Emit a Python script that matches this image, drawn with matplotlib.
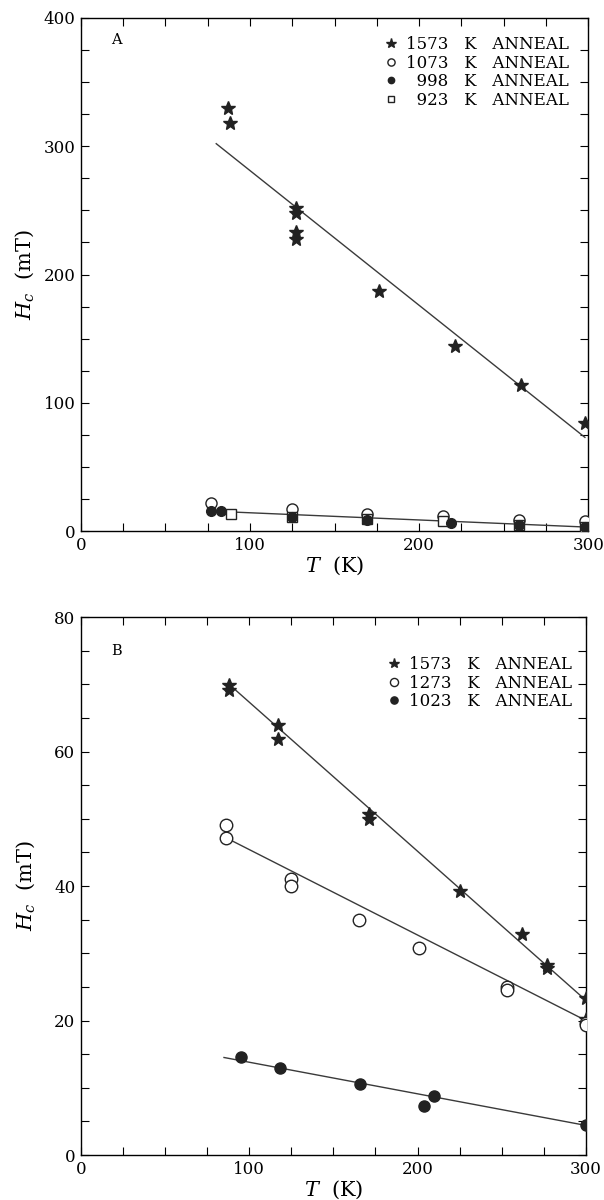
import matplotlib
matplotlib.use("Agg")
import matplotlib.pyplot as plt
from matplotlib.ticker import MultipleLocator

plt.rcParams['font.family'] = ['DejaVu Serif']
plt.rcParams['mathtext.fontset'] = 'dejavuserif'

# ---------------- Panel A data ----------------
T_A_1573 = [87, 88, 127, 127, 127, 127, 176, 221, 260, 298]
H_A_1573 = [330, 318, 252, 248, 233, 228, 187, 144, 114, 84]
T_A_1073 = [77, 125, 169, 214, 259, 298]
H_A_1073 = [22, 17.5, 13.5, 12, 8.5, 7.5]
T_A_998 = [77, 83, 125, 169, 219, 259, 298]
H_A_998 = [15.5, 15.5, 11, 8.5, 6, 4.5, 3]
T_A_923 = [89, 125, 169, 214, 259, 298]
H_A_923 = [13.5, 11, 9, 7.5, 5, 3.5]
fitA_hi_T = [80, 298]
fitA_hi_H = [302, 73]
fitA_lo_T = [77, 300]
fitA_lo_H = [15.5, 3]

# ---------------- Panel B data ----------------
T_B_1573 = [88, 88, 117, 117, 171, 171, 225, 262, 277, 277, 300, 300]
H_B_1573 = [69.9, 69.2, 63.9, 61.8, 50.7, 50.0, 39.3, 32.9, 28.3, 27.8, 23.4, 20.2]
T_B_1273 = [86, 86, 125, 125, 165, 201, 253, 253, 300, 300]
H_B_1273 = [49.0, 47.2, 41.0, 40.0, 35.0, 30.8, 25.0, 24.6, 19.7, 19.4]
T_B_1023 = [95, 118, 166, 204, 210, 300]
H_B_1023 = [14.6, 12.9, 10.5, 7.3, 8.7, 4.5]
fitB_1573_T = [88, 300]
fitB_1573_H = [70.0, 23.0]
fitB_1273_T = [86, 300]
fitB_1273_H = [47.2, 20.0]
fitB_1023_T = [85, 300]
fitB_1023_H = [14.5, 4.4]

labels_A = ["1573   K   ANNEAL", "1073   K   ANNEAL",
            "\u2007998   K   ANNEAL", "\u2007923   K   ANNEAL"]
labels_B = ["1573   K   ANNEAL", "1273   K   ANNEAL", "1023   K   ANNEAL"]

fig = plt.figure(figsize=(6.04, 12.0), dpi=100)
axA = fig.add_axes([0.134, 0.5575, 0.840, 0.4275])
axB = fig.add_axes([0.134, 0.0375, 0.836, 0.4483])

line_kw = dict(color='#3a3a3a', lw=1.0, zorder=2)
star_kw = dict(ls='none', marker='*', ms=10.5, color='#222222', zorder=3)
ocirc_kw = dict(ls='none', marker='o', ms=8, mfc='white', mec='#222222', mew=1.0, zorder=3)
fcirc_kw = dict(ls='none', marker='o', ms=7, color='#222222', zorder=4)
osq_kw = dict(ls='none', marker='s', ms=7, mfc='white', mec='#222222', mew=1.0, zorder=3)

leg_kw = dict(frameon=False, fontsize=12, handlelength=0.8, handletextpad=0.5,
              labelspacing=0.1, markerscale=0.65, borderpad=0.2, borderaxespad=0.2)

# Panel A
axA.plot(fitA_hi_T, fitA_hi_H, **line_kw)
axA.plot(fitA_lo_T, fitA_lo_H, **line_kw)
hA1, = axA.plot(T_A_1573, H_A_1573, **star_kw)
hA2, = axA.plot(T_A_1073, H_A_1073, **ocirc_kw)
hA4, = axA.plot(T_A_923, H_A_923, **osq_kw)
hA3, = axA.plot(T_A_998, H_A_998, **fcirc_kw)
axA.set_xlim(0, 300)
axA.set_ylim(0, 400)
axA.xaxis.set_major_locator(MultipleLocator(100))
axA.xaxis.set_minor_locator(MultipleLocator(25))
axA.yaxis.set_major_locator(MultipleLocator(100))
axA.yaxis.set_minor_locator(MultipleLocator(25))
axA.text(0.06, 0.957, "A", transform=axA.transAxes, fontsize=10.5, va='center', ha='left')
axA.legend([hA1, hA2, hA3, hA4], labels_A, loc='upper right',
           bbox_to_anchor=(0.975, 0.978), **leg_kw)

# Panel B
axB.plot(fitB_1573_T, fitB_1573_H, **line_kw)
axB.plot(fitB_1273_T, fitB_1273_H, **line_kw)
axB.plot(fitB_1023_T, fitB_1023_H, **line_kw)
hB1, = axB.plot(T_B_1573, H_B_1573, **star_kw)
hB2, = axB.plot(T_B_1273, H_B_1273, **dict(ocirc_kw, ms=9))
hB3, = axB.plot(T_B_1023, H_B_1023, **dict(fcirc_kw, ms=8))
axB.set_xlim(0, 300)
axB.set_ylim(0, 80)
axB.xaxis.set_major_locator(MultipleLocator(100))
axB.xaxis.set_minor_locator(MultipleLocator(25))
axB.yaxis.set_major_locator(MultipleLocator(20))
axB.yaxis.set_minor_locator(MultipleLocator(5))
axB.text(0.06, 0.937, "B", transform=axB.transAxes, fontsize=10.5, va='center', ha='left')
axB.legend([hB1, hB2, hB3], labels_B, loc='upper right',
           bbox_to_anchor=(0.985, 0.94), **leg_kw)

for ax in (axA, axB):
    ax.tick_params(which='both', direction='in', top=True, right=True,
                   length=6, width=0.8, labelsize=12, pad=4)
    for s in ax.spines.values():
        s.set_linewidth(1.0)
    ax.set_xlabel(r'$T$  (K)', fontsize=15, labelpad=1)
    ax.set_ylabel(r'$H_c$  (mT)', fontsize=15)
    ax.yaxis.set_label_coords(-0.088, 0.5)

fig.savefig("out.png", dpi=100)
